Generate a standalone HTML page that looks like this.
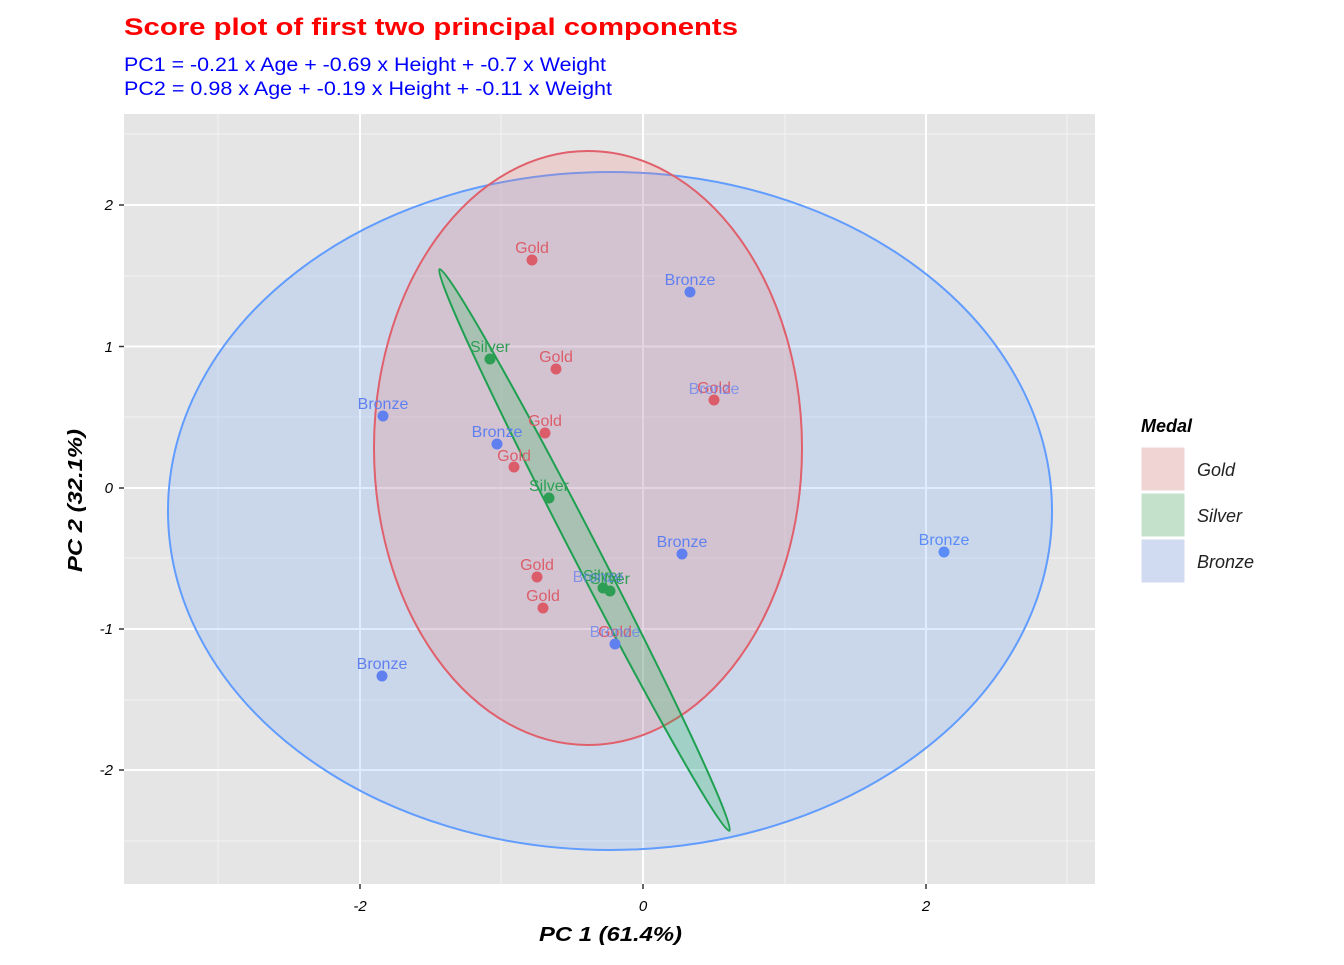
<!DOCTYPE html>
<html><head><meta charset="utf-8"><style>
body{margin:0;background:#fff;}
svg text{font-family:"Liberation Sans",Arial,sans-serif;}
</style></head><body>
<svg width="1344" height="960" xmlns="http://www.w3.org/2000/svg">
<rect width="1344" height="960" fill="#fff"/>
<text x="124" y="35" fill="#ff0000" font-size="24" font-weight="bold" textLength="614" lengthAdjust="spacingAndGlyphs">Score plot of first two principal components</text>
<text x="124" y="71" fill="#0000ff" font-size="19" textLength="482" lengthAdjust="spacingAndGlyphs">PC1 = -0.21 x Age + -0.69 x Height + -0.7 x Weight</text>
<text x="124" y="95" fill="#0000ff" font-size="19" textLength="488" lengthAdjust="spacingAndGlyphs">PC2 = 0.98 x Age + -0.19 x Height + -0.11 x Weight</text>
<rect x="124" y="114" width="971" height="770" fill="#e5e5e5"/>
<g stroke="#f2f2f2" stroke-width="1">
<line x1="218" y1="114" x2="218" y2="884"/><line x1="501" y1="114" x2="501" y2="884"/><line x1="785" y1="114" x2="785" y2="884"/><line x1="1067" y1="114" x2="1067" y2="884"/>
<line x1="124" y1="134" x2="1095" y2="134"/><line x1="124" y1="276" x2="1095" y2="276"/><line x1="124" y1="417" x2="1095" y2="417"/><line x1="124" y1="558" x2="1095" y2="558"/><line x1="124" y1="700" x2="1095" y2="700"/><line x1="124" y1="841" x2="1095" y2="841"/>
</g>
<g stroke="#fff" stroke-width="2">
<line x1="360" y1="114" x2="360" y2="884"/><line x1="643" y1="114" x2="643" y2="884"/><line x1="926" y1="114" x2="926" y2="884"/>
<line x1="124" y1="205" x2="1095" y2="205"/><line x1="124" y1="346.5" x2="1095" y2="346.5"/><line x1="124" y1="488" x2="1095" y2="488"/><line x1="124" y1="629" x2="1095" y2="629"/><line x1="124" y1="770" x2="1095" y2="770"/>
</g>
<ellipse cx="610" cy="511" rx="442" ry="339" fill="rgba(97,156,255,0.2)" stroke="#619CFF" stroke-width="2"/>
<ellipse cx="588" cy="448" rx="214" ry="297" fill="rgba(248,118,109,0.2)" stroke="#e0606c" stroke-width="2"/>
<ellipse cx="584.5" cy="550" rx="316" ry="13" transform="rotate(62.7 584.5 550)" fill="rgba(0,186,56,0.2)" stroke="#1ea050" stroke-width="2"/>
<g font-size="16">
<g fill="#dc5d6a">
<circle cx="532" cy="260" r="5.5"/><text x="532" y="253" text-anchor="middle">Gold</text>
<circle cx="556" cy="369" r="5.5"/><text x="556" y="362" text-anchor="middle">Gold</text>
<circle cx="545" cy="433" r="5.5"/><text x="545" y="426" text-anchor="middle">Gold</text>
<circle cx="514" cy="467" r="5.5"/><text x="514" y="461" text-anchor="middle">Gold</text>
<circle cx="537" cy="577" r="5.5"/><text x="537" y="570" text-anchor="middle">Gold</text>
<circle cx="543" cy="608" r="5.5"/><text x="543" y="601" text-anchor="middle">Gold</text>
<circle cx="714" cy="400" r="5.5"/><text x="714" y="393" text-anchor="middle">Gold</text>
<text x="615" y="637" text-anchor="middle">Gold</text>
</g>
<g fill="#2e9e55">
<circle cx="490" cy="359" r="5.5"/><text x="490" y="352" text-anchor="middle">Silver</text>
<circle cx="549" cy="498" r="5.5"/><text x="549" y="491" text-anchor="middle">Silver</text>
<circle cx="603" cy="588" r="5.5"/><text x="603" y="581" text-anchor="middle">Silver</text>
<circle cx="610" cy="591" r="5.5"/><text x="610" y="584" text-anchor="middle">Silver</text>
</g>
<g fill="#6080f0">
<circle cx="690" cy="292" r="5.5"/><text x="690" y="285" text-anchor="middle">Bronze</text>
<circle cx="383" cy="416" r="5.5"/><text x="383" y="409" text-anchor="middle">Bronze</text>
<circle cx="497" cy="444" r="5.5"/><text x="497" y="437" text-anchor="middle">Bronze</text>
<circle cx="682" cy="554" r="5.5"/><text x="682" y="547" text-anchor="middle">Bronze</text>
<circle cx="944" cy="552" r="5.5" fill="#5c8cf7"/><text x="944" y="545" text-anchor="middle" fill="#5c8cf7">Bronze</text>
<circle cx="382" cy="676" r="5.5"/><text x="382" y="669" text-anchor="middle">Bronze</text>
<text x="714" y="394" text-anchor="middle" opacity="0.7">Bronze</text>
<circle cx="615" cy="644" r="5.5"/><text x="615" y="637" text-anchor="middle" opacity="0.7">Bronze</text>
<text x="598" y="582" text-anchor="middle" opacity="0.7">Bronze</text>
</g>
</g>
<g stroke="#333" stroke-width="1.5">
<line x1="360" y1="884" x2="360" y2="889"/><line x1="643" y1="884" x2="643" y2="889"/><line x1="926" y1="884" x2="926" y2="889"/>
<line x1="119" y1="205" x2="124" y2="205"/><line x1="119" y1="346.5" x2="124" y2="346.5"/><line x1="119" y1="488" x2="124" y2="488"/><line x1="119" y1="629" x2="124" y2="629"/><line x1="119" y1="770" x2="124" y2="770"/>
</g>
<g font-size="15" fill="#000" font-style="italic">
<text x="360" y="911" text-anchor="middle">-2</text><text x="643" y="911" text-anchor="middle">0</text><text x="926" y="911" text-anchor="middle">2</text>
<text x="113" y="210" text-anchor="end">2</text><text x="113" y="352" text-anchor="end">1</text><text x="113" y="493" text-anchor="end">0</text><text x="113" y="634" text-anchor="end">-1</text><text x="113" y="775" text-anchor="end">-2</text>
</g>
<text x="539" y="941" font-size="20" font-weight="bold" font-style="italic" textLength="143" lengthAdjust="spacingAndGlyphs">PC 1 (61.4%)</text>
<text transform="translate(82 572) rotate(-90)" font-size="20" font-weight="bold" font-style="italic" textLength="143" lengthAdjust="spacingAndGlyphs">PC 2 (32.1%)</text>
<text x="1141" y="432" font-size="18" font-weight="bold" font-style="italic">Medal</text>
<rect x="1141" y="447" width="44" height="44" fill="#f0d4d4" stroke="#fff"/>
<rect x="1141" y="493" width="44" height="44" fill="#c4e2cb" stroke="#fff"/>
<rect x="1141" y="539" width="44" height="44" fill="#d0dbf1" stroke="#fff"/>
<g font-size="18" font-style="italic" fill="#222">
<text x="1197" y="476">Gold</text><text x="1197" y="522">Silver</text><text x="1197" y="568">Bronze</text>
</g>
</svg>
</body></html>
